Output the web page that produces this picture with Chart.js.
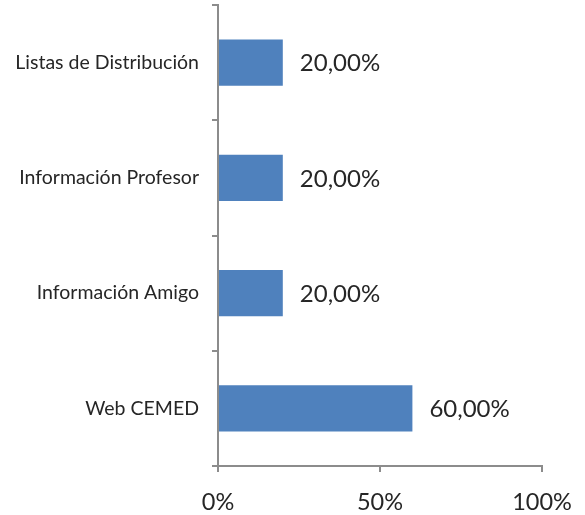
<!DOCTYPE html>
<html>
<head>
<meta charset="utf-8">
<script src="https://cdn.jsdelivr.net/npm/chart.js@4"></script>
<style>
  html, body { margin: 0; padding: 0; background: #ffffff; }
  #wrap { width: 585px; height: 515px; }
</style>
</head>
<body>
<div id="wrap"><canvas id="chart" width="585" height="515"></canvas></div>
<script>
// Categories, top to bottom
const categories = ["Listas de Distribución", "Información Profesor", "Información Amigo", "Web CEMED"];
// Share of answers (percent)
const values = [20, 20, 20, 60];
// x axis ticks
const xTicks = [0, 50, 100];

const textColor = "#262626";
const axisColor = "#8c8c8c";
const fontName = "Lato, 'Liberation Sans', sans-serif";

// Draw "20,00%" style labels just right of each bar
const valueLabels = {
    id: "valueLabels",
    afterDatasetsDraw(chart) {
        const ctx = chart.ctx;
        const meta = chart.getDatasetMeta(0);
        ctx.save();
        ctx.fillStyle = textColor;
        ctx.font = "24px " + fontName;
        ctx.textAlign = "left";
        ctx.textBaseline = "middle";
        meta.data.forEach(function (bar, i) {
            const txt = values[i].toFixed(2).replace(".", ",") + "%";
            ctx.fillText(txt, bar.x + 17, bar.y + 1);
        });
        ctx.restore();
    }
};

new Chart(document.getElementById("chart"), {
    type: "bar",
    plugins: [valueLabels],
    data: {
        labels: categories,
        datasets: [{
            data: values,
            backgroundColor: "#4f81bd",
            borderWidth: 0,
            barPercentage: 0.8,
            categoryPercentage: 0.5
        }]
    },
    options: {
        indexAxis: "y",
        responsive: false,
        animation: false,
        layout: { padding: { left: 0, right: 43, top: 5, bottom: 0 } },
        plugins: {
            legend: { display: false },
            tooltip: { enabled: false }
        },
        scales: {
            x: {
                min: 0,
                max: 100,
                afterBuildTicks: function (axis) {
                    axis.ticks = xTicks.map(function (v) { return { value: v }; });
                },
                afterFit: function (axis) {
                    axis.height = 49;
                    axis.paddingLeft = 0;
                    axis.paddingRight = 0;
                },
                grid: {
                    drawOnChartArea: false,
                    drawTicks: true,
                    tickLength: 6,
                    color: axisColor,
                    lineWidth: 2
                },
                border: { color: axisColor, width: 2 },
                ticks: {
                    color: textColor,
                    font: { family: fontName, size: 23.5 },
                    padding: 16,
                    maxRotation: 0,
                    callback: function (v) { return v + "%"; }
                }
            },
            y: {
                afterFit: function (axis) {
                    axis.width = 218;
                    axis.paddingTop = 0;
                    axis.paddingBottom = 0;
                },
                grid: {
                    offset: true,
                    drawOnChartArea: false,
                    drawTicks: true,
                    tickLength: 6,
                    color: axisColor,
                    lineWidth: 2
                },
                border: { color: axisColor, width: 2 },
                ticks: {
                    color: textColor,
                    font: { family: fontName, size: 19.5 },
                    padding: 13
                }
            }
        }
    }
});
</script>
</body>
</html>
